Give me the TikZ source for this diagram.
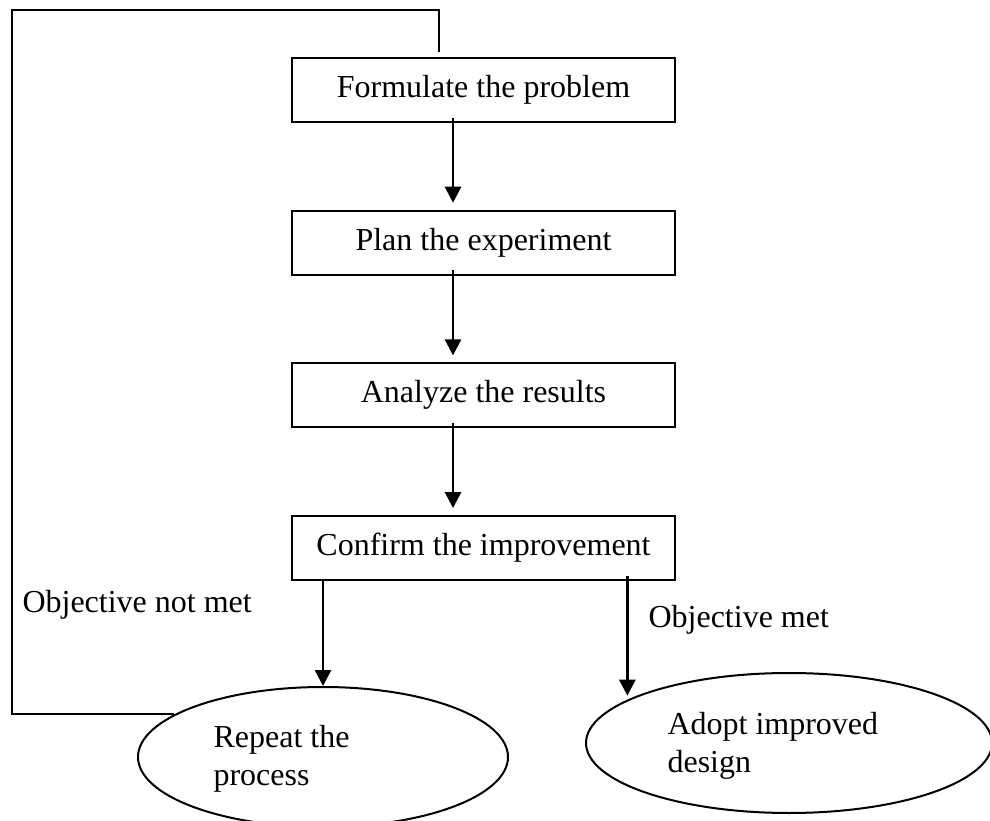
\documentclass[tikz,border=0pt]{standalone}
\usepackage{fontspec}
\setmainfont{Liberation Serif}
\usetikzlibrary{positioning,arrows.meta,shapes.geometric}

\tikzset{
  stepbox/.style = {draw, line width=0.75pt, minimum width=143.6pt, minimum height=24pt, inner sep=0pt},
  endblob/.style = {draw, ellipse, line width=0.75pt, minimum height=52.5pt, inner sep=0pt},
  blobtext/.style = {align=left, anchor=base west, inner sep=0pt},
  arr/.style = {line width=1pt, -{Triangle[length=6pt, width=6pt]}},
  loopline/.style = {line width=0.75pt},
}

\begin{document}
\begin{tikzpicture}[x=0.375pt, y=-0.375pt, font=\fontsize{12}{14.25}\selectfont, node distance=32.5pt]
		\useasboundingbox (0,0) rectangle (990,821);
		% steps
		\node[stepbox] (form) at (483.5,90) {Formulate the problem};
		\node[stepbox, below=of form] (plan) {Plan the experiment};
		\node[stepbox, below=of plan] (ana) {Analyze the results};
		\node[stepbox, below=of ana] (conf) {Confirm the improvement};
		% outcomes
		\node[endblob, minimum width=138.75pt] (rep) at (323,757) {};
		\node[endblob, minimum width=152.25pt] (ado) at (789,743) {};
		\node[blobtext] (reptxt) at (213,785) {Repeat the\\process};
		\node[blobtext] (adotxt) at (667,772) {Adopt improved\\design};
		% labels
		\node[anchor=base west, inner sep=0pt] (notmet) at (22,612) {Objective not met};
		\node[anchor=base west, inner sep=0pt] (met) at (648,628) {Objective met};
		% arrows
		\draw[arr, shorten <=-2pt, shorten >=2.6pt] (453,0 |- form.south) -- (453,0 |- plan.north);
		\draw[arr, shorten <=-2pt, shorten >=2.6pt] (453,0 |- plan.south) -- (453,0 |- ana.north);
		\draw[arr, shorten <=-2pt, shorten >=2.6pt] (453,0 |- ana.south) -- (453,0 |- conf.north);
		\draw[arr] (rep.north |- conf.south) -- (rep.north);
		\draw[arr, shorten <=-2pt, shorten >=1.5pt] (ado.165 |- conf.south) -- (ado.165);
		% loop back
		\coordinate (loopend) at (439,52);
		\draw[loopline] (rep.164) -- (12,0 |- rep.164) -- (12,10) -| (loopend);
	\end{tikzpicture}
\end{document}
